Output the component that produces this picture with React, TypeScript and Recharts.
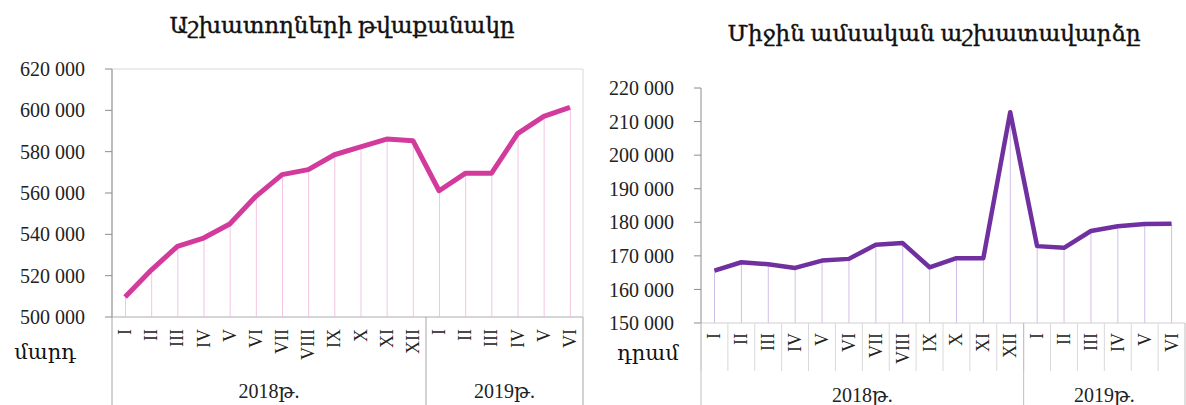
import React from 'react';
import { ComposedChart, Line, Bar, XAxis, YAxis, ReferenceArea } from 'recharts';

// month categories (two years on the axis)
const months = ['I', 'II', 'III', 'IV', 'V', 'VI', 'VII', 'VIII', 'IX', 'X', 'XI', 'XII', 'I', 'II', 'III', 'IV', 'V', 'VI'];
const years = ['2018թ.', '2018թ.', '2018թ.', '2018թ.', '2018թ.', '2018թ.', '2018թ.', '2018թ.', '2018թ.', '2018թ.', '2018թ.', '2018թ.', '2019թ.', '2019թ.', '2019թ.', '2019թ.', '2019թ.', '2019թ.'];

// number of employees
const employees = [509700, 522700, 534200, 538200, 545000, 558400, 568900, 571300, 578500, 582300, 586100, 585300, 561100, 569500, 569500, 588700, 597100, 601400];
// average monthly wage
const wages = [165600, 168100, 167500, 166400, 168600, 169100, 173300, 173800, 166600, 169300, 169300, 212800, 172900, 172400, 177400, 178800, 179500, 179600];

const employeeTicks = [500000, 520000, 540000, 560000, 580000, 600000, 620000];
const wageTicks = [150000, 160000, 170000, 180000, 190000, 200000, 210000, 220000];

const titleLeft = 'Աշխատողների թվաքանակը';
const titleRight = 'Միջին ամսական աշխատավարձը';
const unitLeft = 'մարդ';
const unitRight = 'դրամ';

const rows = months.map((m, i) => ({
  key: `${years[i]}-${m}-${i}`,
  month: m,
  year: years[i],
  employees: employees[i],
  wages: wages[i],
}));

const serif = '"Liberation Serif", "DejaVu Serif", serif';
const fmt = (v: number) => {
  const s = String(v);
  return s.slice(0, s.length - 3) + ' ' + s.slice(-3);
};

type TickOpts = {
  band: number;
  labelGap: number;
  yearY: number;
  fullH: number;
  cellH: number; // 0 = no separators between months
  cellColor: string;
  fullColor: string;
};

const makeTick = (o: TickOpts) => (props: any) => {
  const { x, y, index } = props;
  const row = rows[index];
  if (!row) return <g />;
  const first = rows.findIndex((r) => r.year === row.year);
  let last = first;
  rows.forEach((r, i) => { if (r.year === row.year) last = i; });
  const mid = (first + last) / 2;
  const left = x - o.band / 2;
  const right = x + o.band / 2;
  return (
    <g>
      {o.cellH > 0 && <line x1={left} x2={left} y1={y} y2={y + o.cellH} stroke={o.cellColor} />}
      {index === first && <line x1={left} x2={left} y1={y} y2={y + o.fullH} stroke={o.fullColor} />}
      {index === rows.length - 1 && <line x1={right} x2={right} y1={y} y2={y + o.fullH} stroke={o.fullColor} />}
      <text
        transform={`translate(${x},${y + o.labelGap}) rotate(-90)`}
        textAnchor="end"
        dominantBaseline="central"
        fontSize={18}
        fontFamily={serif}
        fill="#222"
      >
        {row.month}
      </text>
      {index === Math.floor(mid) && (
        <text
          x={x + (mid - index) * o.band}
          y={y + o.yearY}
          textAnchor="middle"
          dominantBaseline="central"
          fontSize={20}
          fontFamily={serif}
          fill="#222"
        >
          {row.year}
        </text>
      )}
    </g>
  );
};

const L = { w: 590, h: 405, top: 69, right: 7, yw: 112, xh: 88 };
const R = { w: 596, h: 405, top: 88, right: 1, yw: 111, xh: 82 };
const bandL = (L.w - L.yw - L.right) / rows.length;
const bandR = (R.w - R.yw - R.right) / rows.length;

const textStyle: React.CSSProperties = {
  position: 'absolute',
  fontFamily: serif,
  color: '#111',
  whiteSpace: 'nowrap',
  transform: 'translate(-50%, -50%)',
  lineHeight: 1,
};

export default function App() {
  return (
    <div style={{ position: 'absolute', left: 0, top: 0, width: 1186, height: 405, background: '#fff', overflow: 'hidden' }}>
      <div style={{ ...textStyle, left: 342, top: 25, fontSize: 23, WebkitTextStroke: '0.4px #111' }}>{titleLeft}</div>
      <div style={{ ...textStyle, left: 934, top: 33, fontSize: 23, WebkitTextStroke: '0.4px #111' }}>{titleRight}</div>
      <div style={{ ...textStyle, left: 45, top: 352, fontSize: 21 }}>{unitLeft}</div>
      <div style={{ ...textStyle, left: 648, top: 353, fontSize: 21 }}>{unitRight}</div>

      <div style={{ position: 'absolute', left: 0, top: 0 }}>
        <ComposedChart width={L.w} height={L.h} data={rows} margin={{ top: L.top, right: L.right, left: 0, bottom: 0 }} barCategoryGap={0}>
          <ReferenceArea y1={500000} y2={620000} stroke="#d9d9d9" fill="none" ifOverflow="visible" />
          <XAxis
            dataKey="key"
            height={L.xh}
            interval={0}
            tickSize={0}
            tickMargin={0}
            axisLine={{ stroke: '#bfbfbf' }}
            tickLine={false}
            tick={makeTick({ band: bandL, labelGap: 12, yearY: 74, fullH: L.xh, cellH: 0, cellColor: '#d9d9d9', fullColor: '#a6a6a6' })}
          />
          <YAxis
            width={L.yw}
            domain={[500000, 620000]}
            ticks={employeeTicks}
            interval={0}
            tickFormatter={fmt}
            tickSize={7}
            tickMargin={20}
            axisLine={{ stroke: '#8c8c8c' }}
            tickLine={{ stroke: '#8c8c8c' }}
            tick={{ fill: '#222', fontSize: 20, fontFamily: serif }}
          />
          <Bar dataKey="employees" barSize={1} fill="#f4c4e3" isAnimationActive={false} />
          <Line type="linear" dataKey="employees" stroke="#d23b9c" strokeWidth={5} dot={false} activeDot={false} strokeLinejoin="round" isAnimationActive={false} />
        </ComposedChart>
      </div>

      <div style={{ position: 'absolute', left: 590, top: 0 }}>
        <ComposedChart width={R.w} height={R.h} data={rows} margin={{ top: R.top, right: R.right, left: 0, bottom: 0 }} barCategoryGap={0}>
          <XAxis
            dataKey="key"
            height={R.xh}
            interval={0}
            tickSize={0}
            tickMargin={0}
            axisLine={{ stroke: '#d0d0d0' }}
            tickLine={false}
            tick={makeTick({ band: bandR, labelGap: 10, yearY: 72, fullH: R.xh, cellH: 48, cellColor: '#d9d9d9', fullColor: '#bfbfbf' })}
          />
          <YAxis
            width={R.yw}
            domain={[150000, 220000]}
            ticks={wageTicks}
            interval={0}
            tickFormatter={fmt}
            tickSize={7}
            tickMargin={20}
            axisLine={{ stroke: '#8c8c8c' }}
            tickLine={{ stroke: '#8c8c8c' }}
            tick={{ fill: '#222', fontSize: 20, fontFamily: serif }}
          />
          <Bar dataKey="wages" barSize={1} fill="#d2bfe9" isAnimationActive={false} />
          <Line type="linear" dataKey="wages" stroke="#7030a0" strokeWidth={4.5} dot={false} activeDot={false} strokeLinejoin="round" isAnimationActive={false} />
        </ComposedChart>
      </div>
    </div>
  );
}
